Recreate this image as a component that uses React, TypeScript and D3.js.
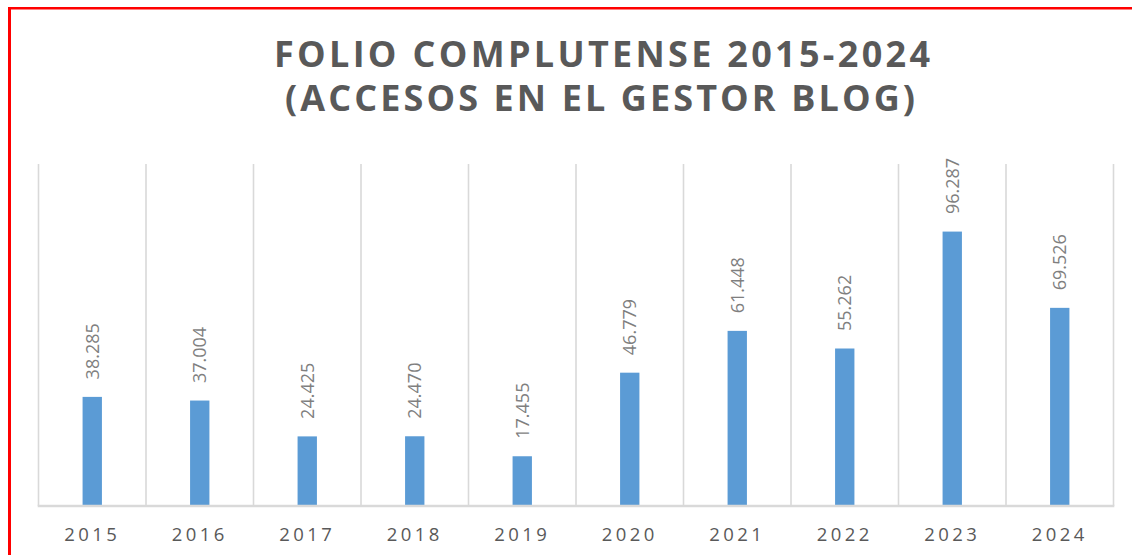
import React from "react";
import * as d3 from "d3";

const categories: string[] = ["2015", "2016", "2017", "2018", "2019", "2020", "2021", "2022", "2023", "2024"];
const values: number[] = [38285, 37004, 24425, 24470, 17455, 46779, 61448, 55262, 96287, 69526];
const valueLabels: string[] = ["38.285", "37.004", "24.425", "24.470", "17.455", "46.779", "61.448", "55.262", "96.287", "69.526"];
const titleLines: string[] = ["FOLIO COMPLUTENSE 2015-2024", "(ACCESOS EN EL GESTOR BLOG)"];

const W = 1132;
const H = 555;
const plotLeft = 38.5;
const plotRight = 1113.5;
const plotTop = 164;
const plotBottom = 506;
const FONT = "'Open Sans', 'DejaVu Sans', sans-serif";

export default function App() {
  const x = d3.scaleBand<string>().domain(categories).range([plotLeft, plotRight]).padding(0);
  const y = d3.scaleLinear().domain([0, 120000]).range([plotBottom, plotTop]);
  const bw = x.bandwidth();
  const barW = bw * 0.18;
  const boundaries = d3.range(categories.length + 1).map((i) => plotLeft + i * x.step());

  return (
    <svg
      width={W}
      height={H}
      viewBox={`0 0 ${W} ${H}`}
      style={{ position: "absolute", left: 0, top: 0, display: "block", background: "#fff" }}
    >
      <rect x={0} y={0} width={W} height={H} fill="#ffffff" />
      {/* red frame */}
      <line x1={9.5} y1={7} x2={9.5} y2={H} stroke="#ff0000" strokeWidth={3} />
      <line x1={8} y1={8.25} x2={W} y2={8.25} stroke="#ff0000" strokeWidth={2.5} />

      {/* title */}
      <text
        x={602}
        y={66.5}
        textAnchor="middle"
        fontFamily={FONT}
        fontWeight={700}
        fontSize={36}
        fill="#595959"
        textLength={656}
        lengthAdjust="spacing"
      >
        {titleLines[0]}
      </text>
      <text
        x={600}
        y={111}
        textAnchor="middle"
        fontFamily={FONT}
        fontWeight={700}
        fontSize={36}
        fill="#595959"
        textLength={630}
        lengthAdjust="spacing"
      >
        {titleLines[1]}
      </text>

      {/* vertical gridlines */}
      {boundaries.map((bx, i) => (
        <line key={"g" + i} x1={bx} x2={bx} y1={plotTop} y2={plotBottom} stroke="#d9d9d9" strokeWidth={1.6} />
      ))}

      {/* bars */}
      {categories.map((c, i) => {
        const cx = (x(c) as number) + bw / 2;
        const top = y(values[i]);
        return (
          <g key={c}>
            <rect x={cx - barW / 2} y={top} width={barW} height={plotBottom - top} fill="#5b9bd5" />
            <text
              transform={`translate(${cx},${top - 17.5}) rotate(-90)`}
              dy="0.36em"
              textAnchor="start"
              fontFamily={FONT}
              fontSize={18}
              fill="#7f7f7f"
            >
              {valueLabels[i]}
            </text>
          </g>
        );
      })}

      {/* axis line */}
      <line x1={plotLeft - 0.8} x2={plotRight + 0.8} y1={plotBottom} y2={plotBottom} stroke="#d9d9d9" strokeWidth={2.4} />

      {/* category labels */}
      {categories.map((c) => {
        const cx = (x(c) as number) + bw / 2;
        return (
          <text
            key={"l" + c}
            x={cx}
            y={541}
            textAnchor="middle"
            fontFamily={FONT}
            fontSize={18.5}
            letterSpacing={3.4}
            fill="#595959"
          >
            {c}
          </text>
        );
      })}
    </svg>
  );
}
